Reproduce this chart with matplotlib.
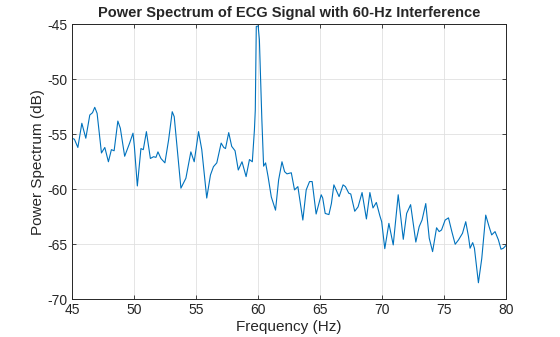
import matplotlib
matplotlib.use("Agg")
import matplotlib.pyplot as plt

# Frequency (Hz) and power (dB)
freq = [45.0, 45.2, 45.48, 45.8, 46.12, 46.44, 46.66, 46.84, 47.03, 47.38,
        47.65, 47.94, 48.18, 48.4, 48.7, 48.9, 49.25, 49.65, 49.92, 50.03,
        50.27, 50.56, 50.75, 51.0, 51.32, 51.58, 51.77, 51.93, 52.17, 52.49,
        52.79, 53.08, 53.24, 53.78, 54.18, 54.58, 54.85, 55.2, 55.46, 55.86,
        56.16, 56.4, 56.67, 57.02, 57.23, 57.37, 57.63, 57.87, 58.14, 58.4,
        58.7, 59.03, 59.3, 59.53, 59.7, 59.77, 59.85, 60.0, 60.1, 60.3,
        60.44, 60.6, 60.8, 61.06, 61.4, 61.65, 61.92, 62.13, 62.32, 62.67,
        62.93, 63.2, 63.6, 63.87, 64.14, 64.35, 64.67, 65.08, 65.2, 65.4,
        65.7, 65.9, 66.1, 66.34, 66.52, 66.84, 67.03, 67.3, 67.46, 67.78,
        68.05, 68.37, 68.72, 69.0, 69.25, 69.52, 69.8, 69.95, 70.2, 70.53,
        70.88, 71.28, 71.69, 71.96, 72.28, 72.7, 72.97, 73.2, 73.5, 73.78,
        74.05, 74.37, 74.58, 74.77, 75.06, 75.33, 75.6, 75.87, 76.14, 76.46,
        76.72, 76.94, 77.07, 77.28, 77.42, 77.74, 78.01, 78.33, 78.6, 78.81,
        79.08, 79.35, 79.56, 79.75, 80.0]
power_db = [-55.36, -55.45, -56.2, -54.0, -55.36, -53.25, -53.04, -52.55, -53.1, -56.7,
            -56.2, -57.5, -56.4, -56.5, -53.8, -54.45, -57.0, -55.8, -54.9, -56.1,
            -59.7, -56.3, -56.4, -54.76, -57.2, -57.04, -57.1, -56.6, -57.2, -57.6,
            -55.5, -52.95, -53.4, -59.9, -59.0, -56.6, -57.5, -54.76, -56.4, -60.8,
            -58.7, -57.95, -57.6, -55.8, -56.2, -56.3, -54.85, -56.1, -56.5, -58.25,
            -57.5, -58.85, -57.3, -57.5, -54.6, -52.8, -45.2, -45.15, -46.4, -53.7,
            -57.9, -57.6, -58.85, -60.7, -61.9, -59.15, -57.5, -58.4, -58.6, -58.5,
            -60.06, -59.76, -62.8, -60.06, -59.3, -59.3, -62.25, -60.5, -60.8, -62.2,
            -62.3, -61.3, -59.6, -60.2, -60.67, -59.6, -59.76, -60.36, -60.43, -62.0,
            -61.6, -60.3, -62.7, -60.3, -61.7, -61.2, -62.4, -62.95, -65.4, -63.1,
            -65.06, -60.5, -64.55, -62.2, -61.4, -64.8, -63.4, -62.8, -61.3, -64.45,
            -65.67, -63.5, -63.85, -63.7, -62.8, -62.6, -63.85, -65.0, -64.6, -64.0,
            -62.95, -64.3, -65.36, -64.85, -65.36, -68.5, -66.3, -62.35, -63.4, -64.15,
            -63.85, -64.6, -65.45, -65.36, -65.06]

x_ticks = [45, 50, 55, 60, 65, 70, 75, 80]
y_ticks = [-70, -65, -60, -55, -50, -45]

plt.rcParams['font.family'] = ['Liberation Sans', 'DejaVu Sans']
plt.rcParams['axes.unicode_minus'] = False  # MATLAB-style hyphen minus

fig = plt.figure(figsize=(5.6, 3.37), dpi=100)
ax = fig.add_axes([0.1284, 0.112, 0.776, 0.816])

ax.plot(freq, power_db, color='#0072BD', linewidth=0.8)

ax.set_xlim(45, 80)
ax.set_ylim(-70, -45)
ax.set_xticks(x_ticks)
ax.set_yticks(y_ticks)
ax.grid(True, color='#e0e0e0', linewidth=0.6)
ax.set_axisbelow(True)
ax.tick_params(direction='in', length=3, width=0.6, top=True, right=True,
               labelsize=10, colors='#262626', pad=3)
for s in ax.spines.values():
    s.set_linewidth(0.7)
    s.set_color('#262626')

ax.set_xlabel('Frequency (Hz)', fontsize=11, color='#262626', labelpad=2)
ax.set_ylabel('Power Spectrum (dB)', fontsize=11, color='#262626', labelpad=2)
ax.set_title('Power Spectrum of ECG Signal with 60-Hz Interference',
             fontsize=10.5, fontweight='bold', color='#262626', pad=5)

fig.savefig('out.png', dpi=100)
